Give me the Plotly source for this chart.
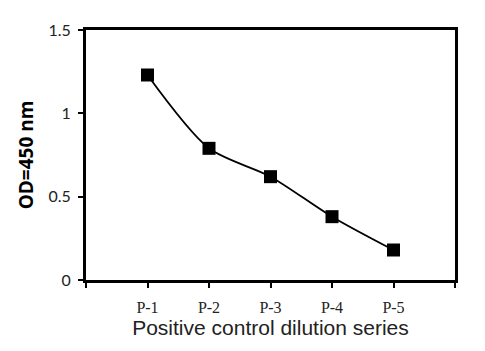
import plotly.graph_objects as go

categories = ["P-1", "P-2", "P-3", "P-4", "P-5"]
positions = [1, 2, 3, 4, 5]
od_values = [1.23, 0.79, 0.62, 0.38, 0.18]
y_ticks = [0, 0.5, 1, 1.5]
y_tick_labels = ["0", "0.5", "1", "1.5"]

fig = go.Figure()
fig.add_trace(go.Scatter(
    x=positions, y=od_values, mode="lines+markers",
    line=dict(color="black", width=1.8, shape="spline", smoothing=0.8),
    marker=dict(symbol="square", size=13, color="black"),
    showlegend=False,
))

fig.update_layout(
    width=485, height=351,
    margin=dict(l=86, r=30, t=30, b=71),
    paper_bgcolor="white", plot_bgcolor="white",
)
fig.update_xaxes(
    range=[0, 6], tickvals=[0] + positions + [6], ticktext=[""] + categories + [""],
    showgrid=False, zeroline=False,
    showline=True, linecolor="black", linewidth=3, mirror=True,
    ticks="outside", ticklen=5, tickwidth=2, tickcolor="black",
    ticklabelstandoff=6,
    tickfont=dict(family="Liberation Serif", size=16, color="#222"),
    title=dict(text="Positive control dilution series", standoff=0,
               font=dict(family="Liberation Sans", size=21, color="#222")),
)
fig.update_yaxes(
    range=[0, 1.5], tickvals=y_ticks, ticktext=y_tick_labels,
    showgrid=False, zeroline=False,
    showline=True, linecolor="black", linewidth=3, mirror=True,
    ticks="outside", ticklen=5, tickwidth=2, tickcolor="black",
    ticklabelstandoff=4,
    tickfont=dict(family="Lato", size=16, color="#222"),
    title=dict(text="<b>OD=450 nm</b>", standoff=10,
               font=dict(family="Open Sans", size=19, color="black")),
)

fig.write_html("out.html")
